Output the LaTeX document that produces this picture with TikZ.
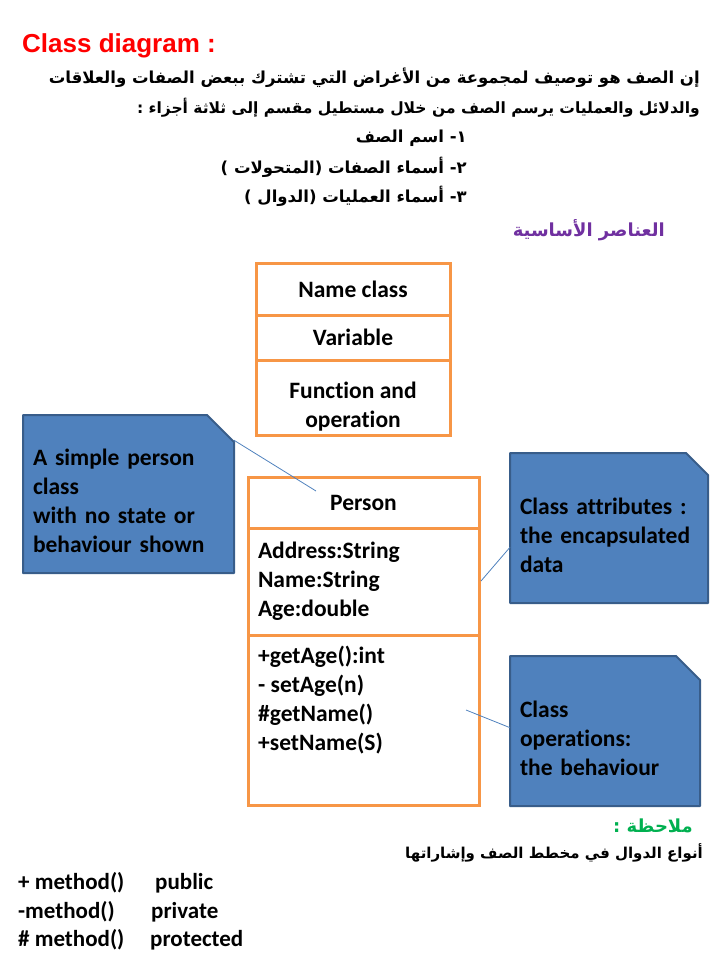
\documentclass[tikz,border=0pt]{standalone}
\usepackage{fontspec}
\setmainfont{Carlito}[Ligatures=NoCommon]
\newfontfamily\headfont{Liberation Sans}
\newfontfamily\arabicfont[Script=Arabic]{DejaVu Sans}
\TeXXeTstate=1
\usetikzlibrary{positioning,backgrounds}
\definecolor{umlorange}{RGB}{247,150,70}
\definecolor{notefill}{RGB}{79,129,189}
\definecolor{notedraw}{RGB}{56,93,138}
\definecolor{titlered}{RGB}{255,0,0}
\definecolor{keypurple}{RGB}{112,48,160}
\definecolor{remgreen}{RGB}{0,176,80}

\begin{document}
\begin{tikzpicture}[
  x=1pt,y=-1pt,
  font=\fontsize{23.5}{29}\selectfont\bfseries,
  cls/.style={draw=umlorange,line width=3pt,outer sep=0pt,inner sep=0pt,align=center},
  note/.style={rectangle,outer sep=0pt,inner sep=0pt},
  notebg/.style={fill=notefill,draw=notedraw,line width=2pt,line join=round},
  notetxt/.style={inner sep=0pt,align=left},
  ar/.style={font=\fontsize{16.5}{20}\selectfont\arabicfont\bfseries,inner sep=0pt,anchor=east},
  link/.style={draw=notefill,line width=0.8pt},
  key/.style={anchor=west,inner sep=0pt,font=\fontsize{23}{28}\selectfont\bfseries}]
\useasboundingbox (0,0) rectangle (720,960);

% heading and introduction
\node[key,font=\fontsize{26}{30}\selectfont\headfont\bfseries,text=titlered] (title) at (22,46) {Class diagram :};
\node[ar] (intro1) at (700,78) {\beginR إن الصف هو توصيف لمجموعة من الأغراض التي تشترك ببعض الصفات والعلاقات\endR};
\node[ar,font=\fontsize{15.5}{20}\selectfont\arabicfont\bfseries] (intro2) at (700,108) {\beginR والدلائل والعمليات يرسم الصف من خلال مستطيل مقسم إلى ثلاثة أجزاء :\endR};
\node[ar] (part1) at (467,138) {\beginR ١- اسم الصف\endR};
\node[ar] (part2) at (467,167) {\beginR ٢- أسماء الصفات (المتحولات )\endR};
\node[ar] (part3) at (467,196) {\beginR ٣- أسماء العمليات (الدوال )\endR};
\node[ar,text=keypurple,font=\fontsize{18}{22}\selectfont\arabicfont\bfseries] (basics) at (665,230) {\beginR العناصر الأساسية\endR};

% generic class box
\node[cls,minimum width=194pt,minimum height=52pt] (nm) at (353,289) {Name class};
\node[cls,minimum width=194pt,minimum height=45pt,below=0pt of nm] (var) {Variable};
\node[cls,minimum width=194pt,minimum height=75pt,below=0pt of var] (fn) {};
\node[notetxt,align=center] (fntxt) at ([yshift=-9pt]fn.center) {Function and\\operation};

% Person class
\node[cls,minimum width=231pt,minimum height=51pt] (pers) at (363.5,502.5) {Person};
\node[cls,minimum width=231pt,minimum height=107pt,text width=211pt,align=left,below=0pt of pers] (attr)
  {Address:String\\Name:String\\Age:double};
\node[cls,minimum width=231pt,minimum height=170pt,below=0pt of attr] (ops) {};
\node[notetxt,anchor=north west] (opslist) at ([xshift=10pt,yshift=-11pt]ops.north west)
  {+getAge():int\\- setAge(n)\\\#getName()\\+setName(S)};

% notes
\node[note,minimum width=211pt,minimum height=158pt] (n1) at (128.5,494) {};
\node[note,minimum width=198pt,minimum height=150pt] (n2) at (609,528) {};
\node[note,minimum width=190pt,minimum height=150pt] (n3) at (605,731) {};
\node[notetxt,text width=191pt] (n1txt) at ([yshift=-7pt]n1.center)
  {A simple person\\class\\with no state or\\behaviour shown};
\node[notetxt,text width=178pt] (n2txt) at ([yshift=-7pt]n2.center)
  {Class attributes :\\the encapsulated\\data};
\node[notetxt,text width=170pt] (n3txt) at ([yshift=-7pt]n3.center)
  {Class\\operations:\\the behaviour};
\begin{scope}[on background layer]
\foreach \n/\c in {n1/27,n2/22,n3/24}
  \filldraw[notebg] (\n.south west) -- (\n.north west) -- ([xshift=-\c pt]\n.north east)
    -- ([yshift=-\c pt]\n.north east) -- (\n.south east) -- cycle;
\end{scope}

\coordinate (c1) at (316,491);
\coordinate (c2) at (481,581);
\coordinate (c3) at (466,710);
\draw[link] (n1.27) -- (c1);
\draw[link] (n2.191) -- (c2);
\draw[link] (n3.178) -- (c3);

% remark and visibility signs
\node[ar,text=remgreen,font=\fontsize{18}{22}\selectfont\arabicfont\bfseries] (remark) at (693,826) {\beginR ملاحظة :\endR};
\node[ar,font=\fontsize{15}{20}\selectfont\arabicfont\bfseries] (signs) at (703,853) {\beginR أنواع الدوال في مخطط الصف وإشاراتها\endR};
\node[key] (vpub) at (18,883) {\makebox[137pt][l]{+ method()}public};
\node[key] (vpri) at (18,912) {\makebox[133pt][l]{-method()}private};
\node[key] (vpro) at (18,940) {\makebox[132pt][l]{\# method()}protected};
\end{tikzpicture}
\end{document}
